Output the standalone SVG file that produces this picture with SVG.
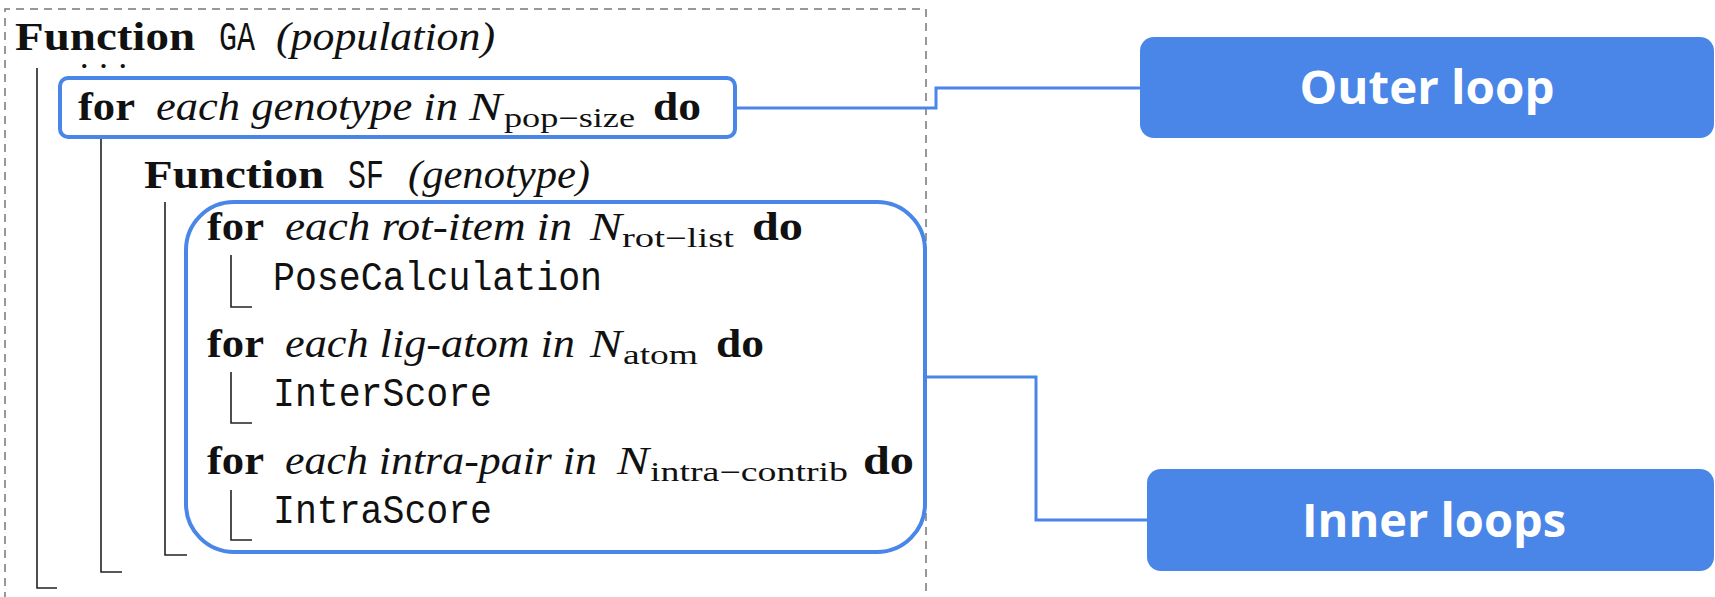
<svg xmlns="http://www.w3.org/2000/svg" width="1715" height="597" viewBox="0 0 1715 597">
<style>
.b{font-family:"Liberation Serif",serif;font-weight:bold;font-size:40px;fill:#111}
.i{font-family:"Liberation Serif",serif;font-style:italic;font-size:40px;fill:#111}
.s{font-family:"Liberation Serif",serif;font-size:27px;fill:#111}
.d{font-family:"Liberation Serif",serif;font-weight:bold;font-size:26px;fill:#111}
.m{font-family:"Liberation Mono",monospace;font-size:40px;fill:#111}
.g{stroke:#222;stroke-width:1.6;fill:none}
.hl{stroke:#4a86e8;stroke-width:4;fill:none}
.con{stroke:#4a86e8;stroke-width:3;fill:none}
.lab{fill:#4a86e8}
.lt{font-family:"Open Sans",sans-serif;font-weight:bold;font-size:46px;fill:#fff;text-anchor:middle}
</style>
<rect width="1715" height="597" fill="#fff"/>
<path d="M5,600 V9 H926 V600" fill="none" stroke="#777" stroke-width="1.5" stroke-dasharray="8,6"/>
<g id="algorithm">
<text y="50"><tspan class="b" x="15" textLength="180" lengthAdjust="spacingAndGlyphs">Function</tspan><tspan class="m" x="219" textLength="36" lengthAdjust="spacingAndGlyphs">GA</tspan><tspan class="i" x="276" textLength="219" lengthAdjust="spacingAndGlyphs">(population)</tspan></text>
<text class="d" x="81" y="68" textLength="45" lengthAdjust="spacing">...</text>
<path class="g" d="M37,68 V588 H57"/>
<text y="120"><tspan class="b" x="78" textLength="57" lengthAdjust="spacingAndGlyphs">for</tspan><tspan class="i" x="156" textLength="302" lengthAdjust="spacingAndGlyphs">each genotype in</tspan><tspan class="i" x="469" textLength="33" lengthAdjust="spacingAndGlyphs">N</tspan><tspan class="s" x="504" dy="7" textLength="131" lengthAdjust="spacingAndGlyphs">pop−size</tspan><tspan class="b" x="653" dy="-7" textLength="48" lengthAdjust="spacingAndGlyphs">do</tspan></text>
<text class="d" x="162" y="139" textLength="30" lengthAdjust="spacing">...</text>
<path class="g" d="M101,137 V572 H122"/>
<text y="188"><tspan class="b" x="144" textLength="180" lengthAdjust="spacingAndGlyphs">Function</tspan><tspan class="m" x="348" textLength="36" lengthAdjust="spacingAndGlyphs">SF</tspan><tspan class="i" x="408" textLength="182" lengthAdjust="spacingAndGlyphs">(genotype)</tspan></text>
<path class="g" d="M165,202 V555 H187"/>
<text y="240"><tspan class="b" x="207" textLength="57" lengthAdjust="spacingAndGlyphs">for</tspan><tspan class="i" x="285" textLength="287" lengthAdjust="spacingAndGlyphs">each rot-item in</tspan><tspan class="i" x="590" textLength="32" lengthAdjust="spacingAndGlyphs">N</tspan><tspan class="s" x="622" dy="7" textLength="112" lengthAdjust="spacingAndGlyphs">rot−list</tspan><tspan class="b" x="752" dy="-7" textLength="51" lengthAdjust="spacingAndGlyphs">do</tspan></text>
<path class="g" d="M231,255 V307 H252"/>
<text class="m" x="273" y="290" textLength="329" lengthAdjust="spacingAndGlyphs">PoseCalculation</text>
<text y="357"><tspan class="b" x="207" textLength="57" lengthAdjust="spacingAndGlyphs">for</tspan><tspan class="i" x="285" textLength="290" lengthAdjust="spacingAndGlyphs">each lig-atom in</tspan><tspan class="i" x="590" textLength="32" lengthAdjust="spacingAndGlyphs">N</tspan><tspan class="s" x="623" dy="7" textLength="75" lengthAdjust="spacingAndGlyphs">atom</tspan><tspan class="b" x="716" dy="-7" textLength="48" lengthAdjust="spacingAndGlyphs">do</tspan></text>
<path class="g" d="M231,372 V423 H252"/>
<text class="m" x="273" y="406" textLength="219" lengthAdjust="spacingAndGlyphs">InterScore</text>
<text y="474"><tspan class="b" x="207" textLength="57" lengthAdjust="spacingAndGlyphs">for</tspan><tspan class="i" x="285" textLength="312" lengthAdjust="spacingAndGlyphs">each intra-pair in</tspan><tspan class="i" x="617" textLength="32" lengthAdjust="spacingAndGlyphs">N</tspan><tspan class="s" x="650" dy="7" textLength="198" lengthAdjust="spacingAndGlyphs">intra−contrib</tspan><tspan class="b" x="863" dy="-7" textLength="51" lengthAdjust="spacingAndGlyphs">do</tspan></text>
<path class="g" d="M231,490 V540 H252"/>
<text class="m" x="273" y="523" textLength="219" lengthAdjust="spacingAndGlyphs">IntraScore</text>
</g>
<g id="outer-highlight"><rect class="hl" x="60" y="78" width="675" height="59" rx="8"/></g>
<g id="inner-highlight"><rect class="hl" x="186" y="202" width="739" height="350" rx="48"/></g>
<g id="connectors">
<path class="con" d="M735,108 H936 V88 H1140"/>
<path class="con" d="M925,377 H1036 V520 H1147"/>
</g>
<g id="outer-loop"><rect class="lab" x="1140" y="37" width="574" height="101" rx="14"/><text class="lt" x="1427" y="104" textLength="255" lengthAdjust="spacingAndGlyphs">Outer loop</text></g>
<g id="inner-loops"><rect class="lab" x="1147" y="469" width="567" height="102" rx="14"/><text class="lt" x="1434" y="537" textLength="264" lengthAdjust="spacingAndGlyphs">Inner loops</text></g>
</svg>
